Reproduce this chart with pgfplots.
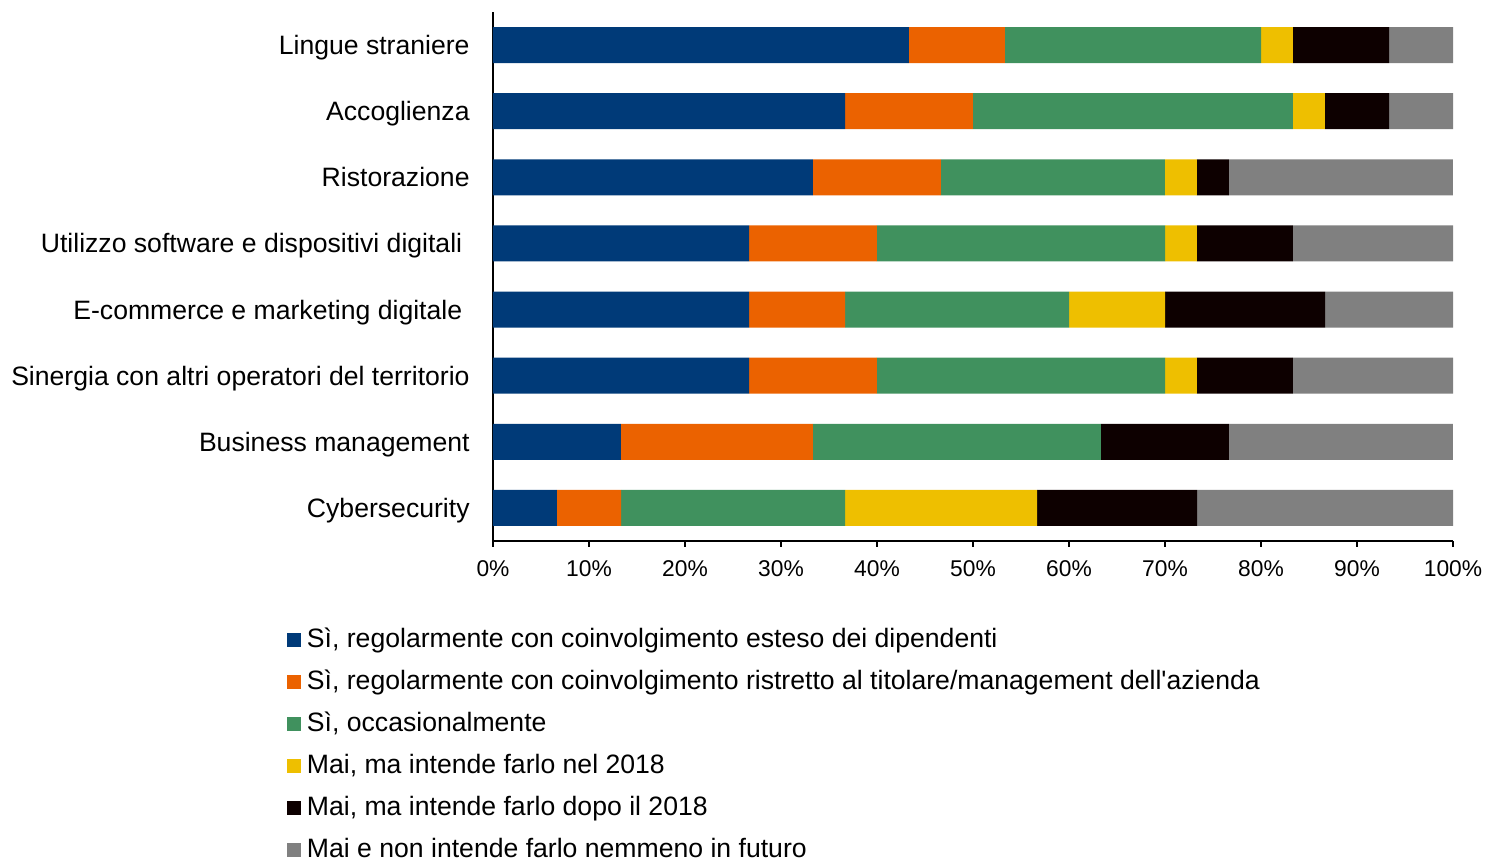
\documentclass[border=0pt]{standalone}
\usepackage{pgfplots}
\pgfplotsset{compat=1.18}
\usepackage{fontspec}
\setmainfont{Liberation Sans}
\definecolor{cblue}{HTML}{003A78}
\definecolor{corange}{HTML}{EB6200}
\definecolor{cgreen}{HTML}{40915E}
\definecolor{cyellow}{HTML}{EEBF00}
\definecolor{cblack}{HTML}{0D0000}
\definecolor{cgray}{HTML}{808080}
\begin{document}
\begin{tikzpicture}
\begin{axis}[
  at={(0,0)}, anchor=south west,
  scale only axis, width=480pt, height=264.5pt,
  xbar stacked, bar width=18pt,
  xmin=0, xmax=100, ymin=-0.5, ymax=7.5,
  axis x line=bottom, axis y line=left,
  axis line style={-, line width=1.25pt, black},
  xtick={0,10,...,100},
  xticklabels={0\%,10\%,20\%,30\%,40\%,50\%,60\%,70\%,80\%,90\%,100\%},
  tick align=outside,
  x tick style={line width=1.25pt, black},
  major tick length=3pt,
  ytick={0,...,7},
  yticklabels={Cybersecurity, Business management, Sinergia con altri operatori del territorio, {E-commerce e marketing digitale\kern3.7pt}, {Utilizzo software e dispositivi digitali\kern3.7pt}, Ristorazione, Accoglienza, Lingue straniere},
  y tick style={draw=none},
  y tick label style={font=\fontsize{13.3}{16}\selectfont, inner sep=0pt, anchor=base east, xshift=-8.5pt, yshift=-4.75pt},
  x tick label style={font=\fontsize{11.4}{14}\selectfont, inner sep=0pt, yshift=-6.5pt},
  legend cell align=left,
  legend style={at={(rel axis cs:-0.2146,-0.1626)}, anchor=north west, draw=none, fill=none,
    inner sep=0pt, outer sep=0pt, font=\fontsize{13.3}{16}\selectfont,
    row sep=8pt,
    nodes={inner sep=0pt, text height=10pt, text depth=3pt}},
  legend image code/.code={\fill[#1] (0pt,-3.5pt) rectangle (7pt,3.5pt); \path (10pt,0pt);},
  every axis plot/.append style={draw=none},
]
\addplot[fill=cblue] coordinates {(6.667,0) (13.333,1) (26.667,2) (26.667,3) (26.667,4) (33.333,5) (36.667,6) (43.333,7)};
\addplot[fill=corange] coordinates {(6.667,0) (20,1) (13.333,2) (10,3) (13.333,4) (13.333,5) (13.333,6) (10,7)};
\addplot[fill=cgreen] coordinates {(23.333,0) (30,1) (30,2) (23.333,3) (30,4) (23.333,5) (33.333,6) (26.667,7)};
\addplot[fill=cyellow] coordinates {(20,0) (0,1) (3.333,2) (10,3) (3.333,4) (3.333,5) (3.333,6) (3.333,7)};
\addplot[fill=cblack] coordinates {(16.667,0) (13.333,1) (10,2) (16.667,3) (10,4) (3.333,5) (6.667,6) (10,7)};
\addplot[fill=cgray] coordinates {(26.667,0) (23.333,1) (16.667,2) (13.333,3) (16.667,4) (23.333,5) (6.667,6) (6.667,7)};
\legend{{Sì, regolarmente con coinvolgimento esteso dei dipendenti},
{Sì, regolarmente con coinvolgimento ristretto al titolare/management dell\textquotesingle azienda},
{Sì, occasionalmente},
{Mai, ma intende farlo nel 2018},
{Mai, ma intende farlo dopo il 2018},
{Mai e non intende farlo nemmeno in futuro}}
\end{axis}
\path (-246.5pt,-159pt) rectangle (497.5pt,270.5pt);
\end{tikzpicture}
\end{document}
